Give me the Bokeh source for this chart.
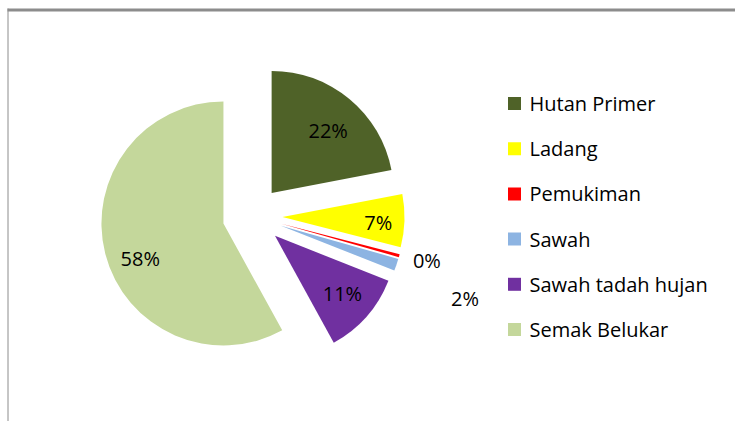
import math
from bokeh.plotting import figure
from bokeh.embed import file_html
from bokeh.resources import INLINE
from bokeh.core.properties import value

# ---- data ----
categories = ["Hutan Primer", "Ladang", "Pemukiman", "Sawah", "Sawah tadah hujan", "Semak Belukar"]
percentages = [22.0, 7.0, 0.4, 1.6, 11.0, 58.0]
labels = ["22%", "7%", "0%", "2%", "11%", "58%"]
colors = ["#4F6228", "#FFFF00", "#FF0000", "#8DB4E2", "#7030A0", "#C4D79B"]

# ---- layout / style ----
W, H = 735, 421
CX, CY = 252, 205.5      # pie centre (figure pixel coords, y up)
R = 122                  # pie radius
EXPLODE = 30             # explosion distance
label_dist = [114, 126, 180, 228, 119, 120]
label_dtheta = [2.0, 1.2, -0.8, 2.5, -0.5, -6.4]   # degrees, clockwise tweak
FONT = "Open Sans"
FS = "20px"

p = figure(width=W, height=H, x_range=(0, W), y_range=(0, H),
           min_border=0, toolbar_location=None, output_backend="svg")
p.axis.visible = False
p.grid.visible = False
p.outline_line_color = None
p.background_fill_color = "#FFFFFF"
p.border_fill_color = "#FFFFFF"

# frame lines (top and left)
p.line([7, W], [H - 9.5, H - 9.5], line_color="#8C8C8C", line_width=3)
p.line([7.5, 7.5], [0, H - 8], line_color="#8C8C8C", line_width=1)

total = sum(percentages)
cum = 0.0
for i, v in enumerate(percentages):
    s = cum / total
    e = (cum + v) / total
    cum += v
    # Excel: start at 12 o'clock, clockwise
    a_start = math.pi / 2 - 2 * math.pi * e
    a_end = math.pi / 2 - 2 * math.pi * s
    mid = (a_start + a_end) / 2
    x = CX + EXPLODE * math.cos(mid)
    y = CY + EXPLODE * math.sin(mid)
    p.wedge(x=[x], y=[y], radius=R, start_angle=[a_start], end_angle=[a_end],
            direction="anticlock", fill_color=colors[i], line_color=None)
    la = mid - math.radians(label_dtheta[i])
    lx = CX + label_dist[i] * math.cos(la)
    ly = CY + label_dist[i] * math.sin(la)
    p.text(x=[lx], y=[ly], text=[labels[i]], text_align="center", text_baseline="middle",
           text_font=value(FONT), text_font_size=FS, text_color="#000000")

# legend drawn manually
LX, LY0, LSTEP = 514, 318, 45.2
for i, name in enumerate(categories):
    yy = LY0 - i * LSTEP
    p.rect(x=[LX], y=[yy], width=13, height=13, fill_color=colors[i], line_color=None)
    p.text(x=[LX + 15], y=[yy], text=[name], text_align="left", text_baseline="middle",
           text_font=value(FONT), text_font_size=FS, text_color="#000000")

open("out.html", "w").write(file_html(p, INLINE))
